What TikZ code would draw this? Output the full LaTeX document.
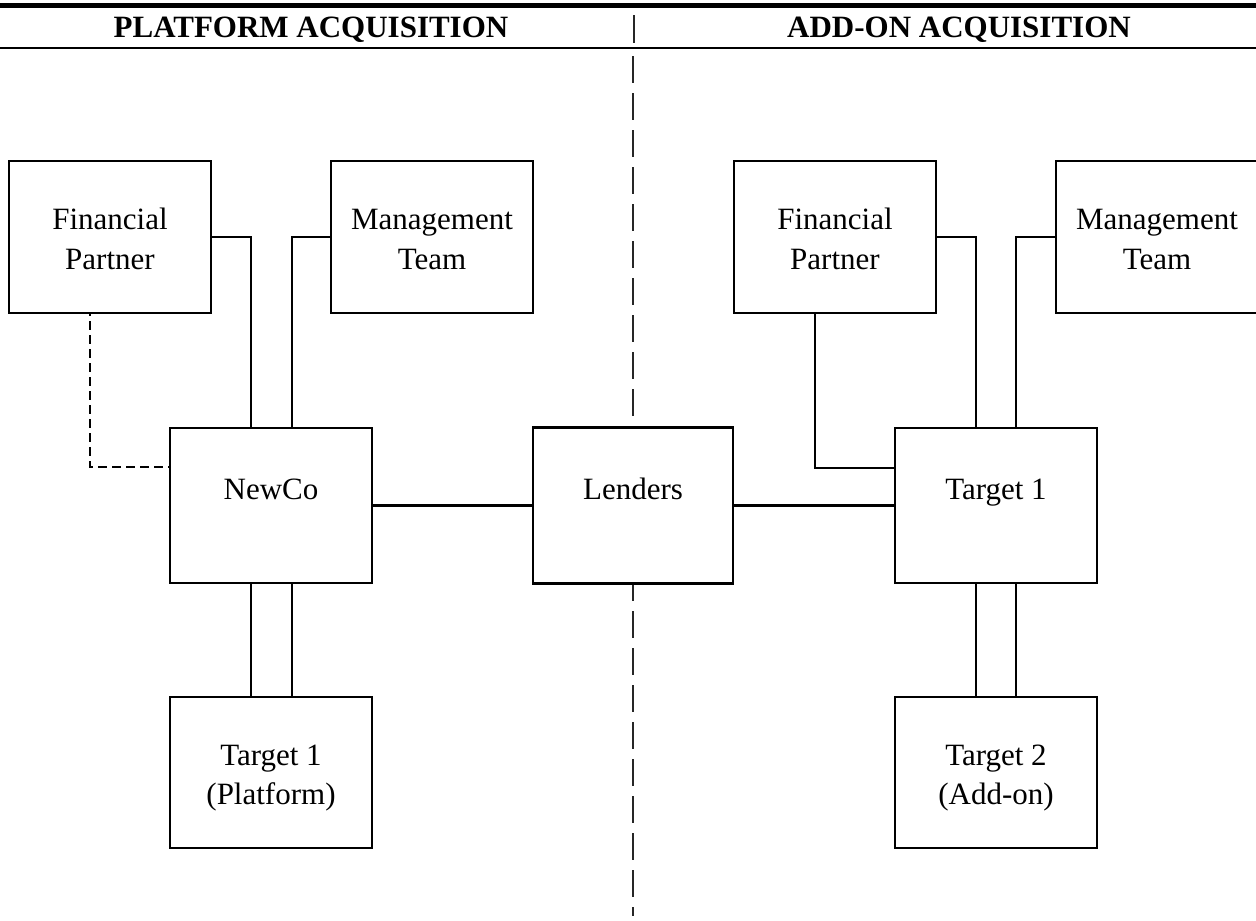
\documentclass[tikz,border=0pt]{standalone}
\usepackage{fontspec}
\setmainfont{Liberation Serif}
\begin{document}
\begin{tikzpicture}[x=1pt,y=-1pt,
  box/.style={draw=black,line width=2.2pt,fill=white,rectangle,inner sep=0pt,minimum width=202pt,minimum height=152pt},
  txt/.style={inner sep=0pt,anchor=base,font=\fontsize{31}{40}\selectfont},
  head/.style={inner sep=0pt,anchor=base,font=\fontsize{31}{40}\selectfont\bfseries},
  conn/.style={draw=black,line width=2.2pt},
  dconn/.style={draw=black,line width=2.6pt,dash pattern=on 9pt off 5pt,dash phase=-7pt},
  divider/.style={draw=black!85,line width=1.6pt,dash pattern=on 27pt off 10pt}]
\useasboundingbox (0,0) rectangle (1256,921);
% header
\draw[line width=5.3pt] (0,5.3) -- (1256,5.3);
\draw[line width=2.6pt] (0,48) -- (1256,48);
\node[head] (hl) at (311,37) {PLATFORM ACQUISITION};
\node[head] (hr) at (959,37) {ADD-ON ACQUISITION};
\coordinate (dtop) at (634,15);
\coordinate (dbot) at (634,43);
\draw[draw=black!85,line width=1.6pt] (dtop) -- (dbot);
\coordinate (vtop) at (633,56);
\coordinate (vbot) at (633,916);
\draw[divider] (vtop) -- (vbot);
% boxes
\node[box] (fpL) at (110,237) {};
\node[box] (mtL) at (432,237) {};
\node[box,minimum height=155pt] (nc) at (271,505.5) {};
\node[box,minimum width=200pt,minimum height=156pt] (ld) at (633,505.5) {};
\node[box,minimum height=155pt] (t1) at (996,505.5) {};
\node[box] (fpR) at (835,237) {};
\node[box] (mtR) at (1157,237) {};
\node[box,minimum height=151pt] (tp) at (271,772.5) {};
\node[box,minimum height=151pt] (t2) at (996,772.5) {};
% texts
\node[txt] at (110,229) {Financial};
\node[txt] at (110,269) {Partner};
\node[txt] at (432,229) {Management};
\node[txt] at (432,269) {Team};
\node[txt] at (271,499) {NewCo};
\node[txt] at (633,499) {Lenders};
\node[txt] at (996,499) {Target 1};
\node[txt] at (835,229) {Financial};
\node[txt] at (835,269) {Partner};
\node[txt] at (1157,229) {Management};
\node[txt] at (1157,269) {Team};
\node[txt] at (271,765) {Target 1};
\node[txt] at (271,804) {(Platform)};
\node[txt] at (996,765) {Target 2};
\node[txt] at (996,804) {(Add-on)};
% connectors left
\draw[conn] (fpL.east) -| ([xshift=-20pt]nc.north);
\draw[conn] (mtL.west) -| ([xshift=21pt]nc.north);
\draw[dconn] ([xshift=-20pt]fpL.south) |- ([yshift=38.5pt]nc.west);
\draw[conn] (nc.east) -- (ld.west);
\draw[conn] ([xshift=-20pt]nc.south) -- ([xshift=-20pt]tp.north);
\draw[conn] ([xshift=21pt]nc.south) -- ([xshift=21pt]tp.north);
% connectors right
\draw[conn] (ld.east) -- (t1.west);
\draw[conn] (fpR.east) -| ([xshift=-20pt]t1.north);
\draw[conn] (mtR.west) -| ([xshift=20pt]t1.north);
\draw[conn] ([xshift=-20pt]fpR.south) |- ([yshift=37.5pt]t1.west);
\draw[conn] ([xshift=-20pt]t1.south) -- ([xshift=-20pt]t2.north);
\draw[conn] ([xshift=20pt]t1.south) -- ([xshift=20pt]t2.north);
\end{tikzpicture}
\end{document}
